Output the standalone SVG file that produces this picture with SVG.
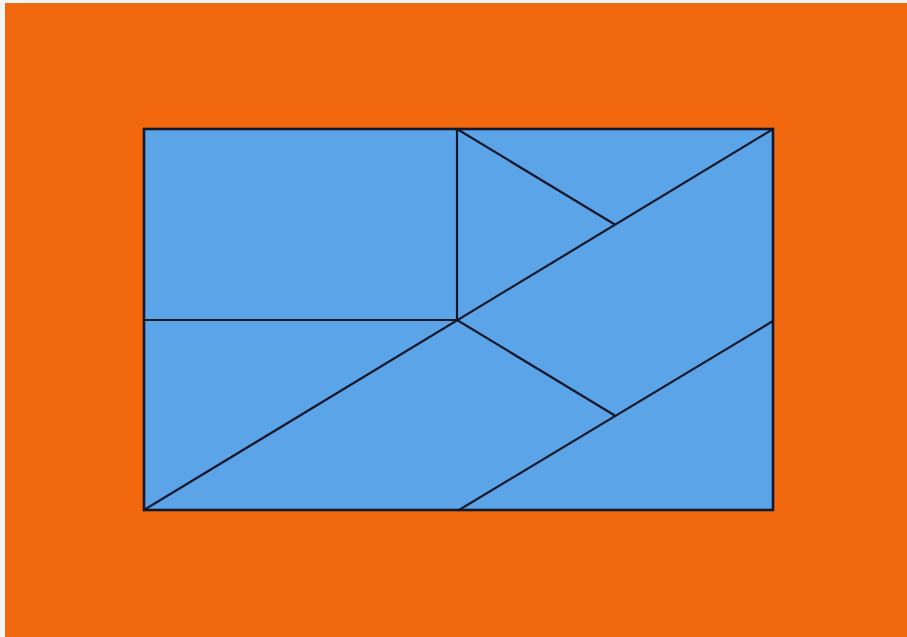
<svg xmlns="http://www.w3.org/2000/svg" width="907" height="637" viewBox="0 0 907 637">
<style>
.ln{stroke:#15182a;stroke-width:2.2;fill:none;stroke-linecap:round;stroke-linejoin:miter}
.frame{stroke:#15182a;stroke-width:2.6;fill:none}
</style>
<rect x="0" y="0" width="907" height="637" fill="#f4f4f4"/>
<rect x="5" y="3" width="902" height="634" fill="#f1680f"/>
<rect x="144" y="129" width="629" height="381" fill="#5ba4e8"/>
<g id="lines">
<rect class="frame" x="144" y="129" width="629" height="381"/>
<line class="ln" x1="457" y1="129" x2="457" y2="320"/>
<line class="ln" x1="144" y1="320" x2="457" y2="320"/>
<line class="ln" x1="144" y1="510" x2="773" y2="129"/>
<line class="ln" x1="457" y1="129" x2="614" y2="224"/>
<line class="ln" x1="457" y1="320" x2="614" y2="415"/>
<line class="ln" x1="459" y1="510" x2="773" y2="321"/>
</g>
</svg>
